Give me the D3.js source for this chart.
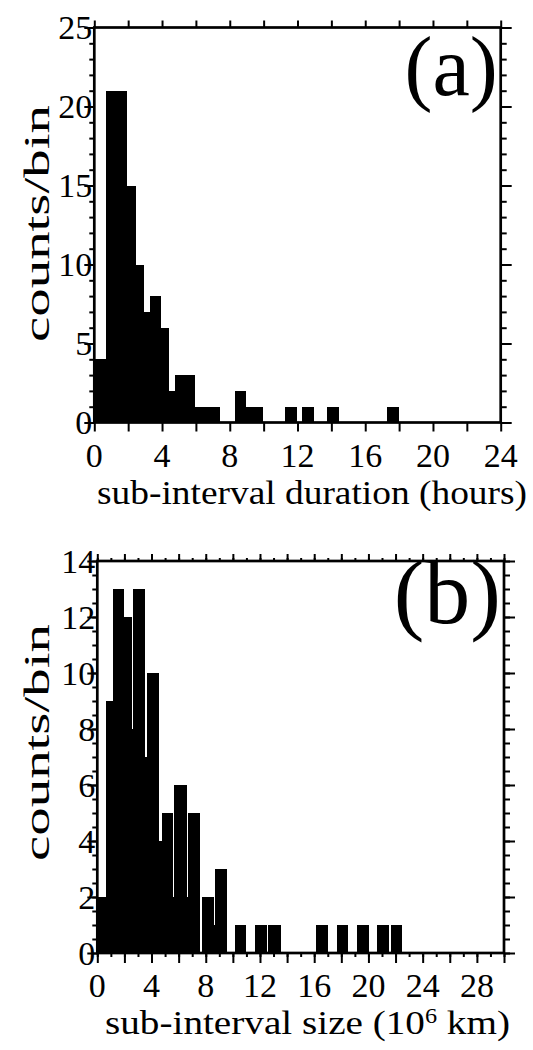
<!DOCTYPE html>
<html>
<head>
<meta charset="utf-8">
<script src="https://cdn.jsdelivr.net/npm/d3@7"></script>
<style>
  body { margin: 0; background: #fff; }
</style>
</head>
<body>
<div id="chart"></div>
<script>
// panel (a): sub-interval duration (hours)
const aLo    = [0, 0.7, 1.95, 2.45, 2.95, 3.3, 3.95, 4.4, 4.75, 5.95, 8.3, 8.95, 11.25, 12.25, 13.75, 17.3]
const aHi    = [0.7, 1.95, 2.45, 2.95, 3.3, 3.95, 4.4, 4.75, 5.95, 7.45, 8.95, 9.95, 11.95, 12.95, 14.45, 18.0]
const aCount = [4, 21, 15, 10, 7, 8, 6, 2, 3, 1, 2, 1, 1, 1, 1, 1]
const aXLabels = [0, 4, 8, 12, 16, 20, 24]
const aYLabels = [0, 5, 10, 15, 20, 25]

// panel (b): sub-interval size (10^6 km)
const bLo    = [0, 0.64, 1.14, 1.97, 2.53, 2.66, 3.52, 3.69, 4.57, 4.75, 5.56, 5.66, 6.59, 6.71, 7.7, 8.6, 8.68, 10.15, 11.65, 12.6, 16.15, 17.65, 19.15, 20.6, 21.65]
const bHi    = [0.64, 1.14, 1.97, 2.53, 2.66, 3.52, 3.69, 4.57, 4.75, 5.56, 5.66, 6.59, 6.71, 7.57, 8.6, 8.68, 9.54, 11.0, 12.5, 13.55, 17.05, 18.5, 20.05, 21.55, 22.5]
const bCount = [2, 9, 13, 12, 8, 13, 7, 10, 4, 5, 2, 6, 2, 5, 2, 1, 3, 1, 1, 1, 1, 1, 1, 1, 1]
const bXLabels = [0, 4, 8, 12, 16, 20, 24, 28]
const bYLabels = [0, 2, 4, 6, 8, 10, 12, 14]

const width = 533, height = 1050
const serif = '"Liberation Serif", "Times New Roman", Times, serif'

let svg = d3.select('#chart')
  .append('svg')
  .attr('width', width)
  .attr('height', height)
  .attr('font-family', serif)

let drawPanel = (p) => {
  const x = d3.scaleLinear().domain(p.xDomain).range([p.left, p.right])
  const y = d3.scaleLinear().domain(p.yDomain).range([p.bottom, p.top])
  const g = svg.append('g')

  // bars
  g.selectAll('rect.bar')
    .data(p.counts.map((c, i) => ({lo: p.lo[i], hi: p.hi[i], c: c})))
    .enter()
    .append('rect')
    .attr('class', 'bar')
    .attr('x', d => x(d.lo))
    .attr('width', d => x(d.hi) - x(d.lo))
    .attr('y', d => y(d.c))
    .attr('height', d => y(0) - y(d.c))
    .attr('fill', '#000')
    .attr('shape-rendering', 'crispEdges')

  // tick marks, all pointing outward
  const tickAxis = (axis, tr, vals, size) => {
    g.append('g')
      .attr('transform', tr)
      .call(axis.tickValues(vals).tickSize(size).tickFormat(''))
      .call(s => s.select('.domain').remove())
      .call(s => s.selectAll('line').attr('stroke', '#000').attr('stroke-width', 2))
  }
  tickAxis(d3.axisBottom(x), `translate(0,${p.bottom})`, p.xMinor, p.xMinorLen[0])
  tickAxis(d3.axisBottom(x), `translate(0,${p.bottom})`, p.xMajor, p.xMajorLen[0])
  tickAxis(d3.axisTop(x), `translate(0,${p.top})`, p.xMinor, p.xMinorLen[1])
  tickAxis(d3.axisTop(x), `translate(0,${p.top})`, p.xMajor, p.xMajorLen[1])
  tickAxis(d3.axisLeft(y), `translate(${p.left},0)`, p.yMinor, 5)
  tickAxis(d3.axisLeft(y), `translate(${p.left},0)`, p.yMajor, 10)
  tickAxis(d3.axisRight(y), `translate(${p.right},0)`, p.yMinor, 6)
  tickAxis(d3.axisRight(y), `translate(${p.right},0)`, p.yMajor, 11)

  // frame
  g.append('rect')
    .attr('x', p.left).attr('y', p.top)
    .attr('width', p.right - p.left).attr('height', p.bottom - p.top)
    .attr('fill', 'none').attr('stroke', '#000').attr('stroke-width', 2.7)

  // tick labels
  g.selectAll('text.xl')
    .data(p.xLabels)
    .enter()
    .append('text')
    .attr('x', d => x(d))
    .attr('y', p.bottom + 44)
    .attr('text-anchor', 'middle')
    .attr('font-size', 34)
    .text(d => d)

  g.selectAll('text.yl')
    .data(p.yLabels)
    .enter()
    .append('text')
    .attr('x', p.left - 2)
    .attr('y', d => y(d))
    .attr('dy', '0.34em')
    .attr('text-anchor', 'end')
    .attr('font-size', 34)
    .text(d => d)

  // y title, stretched along its length like the original
  g.append('text')
    .attr('transform', `translate(49,${p.yTitleMid}) rotate(-90)`)
    .attr('x', -118).attr('y', 0)
    .attr('textLength', 237)
    .attr('lengthAdjust', 'spacingAndGlyphs')
    .attr('font-size', 35)
    .text('counts/bin')

  // x title
  const xt = g.append('text')
    .attr('x', p.xTitleLeft)
    .attr('y', p.bottom + 81)
    .attr('textLength', p.xTitleLen)
    .attr('lengthAdjust', 'spacingAndGlyphs')
    .attr('font-size', 34)
  p.xTitle(xt)

  // panel letter
  g.append('text')
    .attr('x', p.right - 3)
    .attr('y', p.top + p.tagDrop)
    .attr('text-anchor', 'end')
    .attr('font-size', p.tagSize)
    .text(p.tag)
}

drawPanel({
  lo: aLo, hi: aHi, counts: aCount,
  xDomain: [0, 24], yDomain: [0, 25],
  left: 94.3, right: 500.7, top: 27.5, bottom: 422.5,
  xMajor: d3.range(0, 25, 2), xMinor: [], xMajorLen: [9, 7], xMinorLen: [0, 0],
  yMajor: aYLabels, yMinor: d3.range(0, 26, 1),
  xLabels: aXLabels, yLabels: aYLabels,
  yTitleMid: 224, xTitleLeft: 97, xTitleLen: 430,
  xTitle: t => t.text('sub-interval duration (hours)'),
  tag: '(a)', tagDrop: 67, tagSize: 84
})

drawPanel({
  lo: bLo, hi: bHi, counts: bCount,
  xDomain: [0, 30], yDomain: [0, 14],
  left: 97.3, right: 504, top: 561, bottom: 953,
  xMajor: d3.range(0, 31, 2), xMinor: d3.range(0, 31, 1), xMajorLen: [10, 7], xMinorLen: [4, 3],
  yMajor: bYLabels, yMinor: d3.range(0, 14.5, 0.5),
  xLabels: bXLabels, yLabels: bYLabels,
  yTitleMid: 743, xTitleLeft: 105, xTitleLen: 405,
  xTitle: t => {
    t.append('tspan').text('sub-interval size (10')
    t.append('tspan').attr('dy', -11).attr('font-size', 21).text('6')
    t.append('tspan').attr('dy', 11).text(' km)')
  },
  tag: '(b)', tagDrop: 62, tagSize: 92
})
</script>
</body>
</html>
